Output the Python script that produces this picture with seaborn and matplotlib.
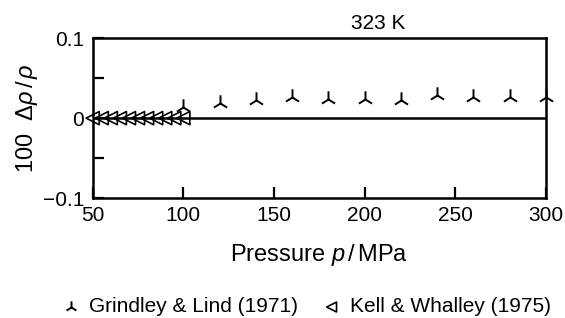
import matplotlib
matplotlib.use("Agg")
import matplotlib.pyplot as plt
import seaborn as sns
import pandas as pd

# Grindley & Lind (1971)
gl_pressure = [100, 120, 140, 160, 180, 200, 220, 240, 260, 280, 300]
gl_dev = [0.014, 0.019, 0.023, 0.026, 0.024, 0.024, 0.023, 0.029, 0.027, 0.027, 0.026]

# Kell & Whalley (1975)
kw_pressure = [50, 55, 60, 65, 70, 75, 80, 85, 90, 95, 100]
kw_dev = [0, 0, 0, 0, 0, 0, 0, 0, 0, 0, 0]

x_ticks = [50, 100, 150, 200, 250, 300]
y_ticks = [-0.1, 0, 0.1]
y_labels = ["\u22120.1", "0", "0.1"]
y_minor = [-0.05, 0.05]

sns.set_style("ticks")
plt.rcParams['font.family'] = ['Liberation Sans', 'DejaVu Sans']
plt.rcParams['mathtext.fontset'] = 'custom'
plt.rcParams['mathtext.it'] = 'Liberation Sans:italic'
plt.rcParams['mathtext.rm'] = 'Liberation Sans'
plt.rcParams['text.color'] = 'black'
plt.rcParams['axes.labelcolor'] = 'black'

fig, ax = plt.subplots(figsize=(5.65, 3.18), dpi=100)
fig.subplots_adjust(left=0.164, right=0.966, top=0.88, bottom=0.377)

gl = pd.DataFrame({"p": gl_pressure, "d": gl_dev})
kw = pd.DataFrame({"p": kw_pressure, "d": kw_dev})

ax.axhline(0, color="black", lw=1.8, zorder=1)
sns.scatterplot(data=gl, x="p", y="d", marker="2", s=140, color="black",
                linewidth=1.4, label="Grindley & Lind (1971)", ax=ax, zorder=3, clip_on=False)
sns.scatterplot(data=kw, x="p", y="d", marker="<", s=90, facecolor="none",
                edgecolor="black", linewidth=1.2, label="Kell & Whalley (1975)",
                ax=ax, zorder=3, clip_on=False)

ax.set_xlim(50, 300)
ax.set_ylim(-0.1, 0.1)
ax.set_xticks(x_ticks)
ax.set_xticklabels([str(t) for t in x_ticks])
ax.set_yticks(y_ticks)
ax.set_yticklabels(y_labels)
ax.set_yticks(y_minor, minor=True)
ax.tick_params(axis="both", which="both", direction="in", length=8, width=1.6,
               labelsize=15, colors="black")
ax.tick_params(axis="x", pad=6)
ax.tick_params(axis="y", pad=6)
for s in ax.spines.values():
    s.set_linewidth(1.8)
    s.set_color("black")

ax.set_xlabel(r"Pressure $p\,$/$\,$MPa", fontsize=17, labelpad=12)
ax.set_ylabel(r"100  $\Delta\rho\,$/$\,\rho$", fontsize=17, labelpad=2)
ax.text(0.63, 1.035, "323 K", transform=ax.transAxes, ha="center", va="bottom", fontsize=15)

ax.legend(loc="center left", bbox_to_anchor=(58 / 565, 1 - 307 / 318),
          bbox_transform=fig.transFigure, ncol=2, frameon=False, borderpad=0,
          borderaxespad=0, fontsize=15, handlelength=1.2, handletextpad=0.3,
          columnspacing=1.0, markerscale=0.75)

fig.savefig("out.png", dpi=100)
